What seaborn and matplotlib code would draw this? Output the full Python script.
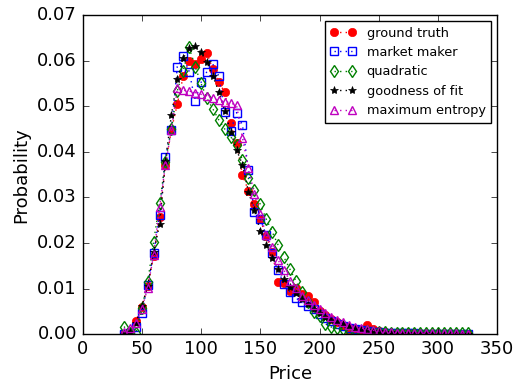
import numpy as np
import pandas as pd
import matplotlib
matplotlib.use("Agg")
import matplotlib.pyplot as plt
import seaborn as sns

# Price grid and estimated probabilities for each method
price = np.arange(35, 330, 5)

ground_truth = [0.0000, 0.0006, 0.0030, 0.0060, 0.0105, 0.0172, 0.0257, 0.0372, 0.0448, 0.0505,
                0.0566, 0.0598, 0.0593, 0.0604, 0.0616, 0.0581, 0.0552, 0.0531, 0.0464, 0.0419,
                0.0349, 0.0315, 0.0285, 0.0252, 0.0215, 0.0180, 0.0115, 0.0112, 0.0095, 0.0101,
                0.0088, 0.0083, 0.0070, 0.0052, 0.0042, 0.0033, 0.0026, 0.0018, 0.0008, 0.0012,
                0.0010, 0.0020, 0.0012, 0.0007, 0.0005, 0.0004, 0.0003, 0.0003, 0.0002, 0.0002,
                0.0001, 0.0001, 0.0001, 0.0001, 0.0000, 0.0000, 0.0000, 0.0000, 0.0000]

market_maker = [0.0000, 0.0003, 0.0016, 0.0046, 0.0109, 0.0178, 0.0262, 0.0389, 0.0448, 0.0587,
                0.0609, 0.0576, 0.0512, 0.0552, 0.0576, 0.0592, 0.0566, 0.0488, 0.0445, 0.0486,
                0.0458, 0.0360, 0.0269, 0.0252, 0.0218, 0.0179, 0.0141, 0.0110, 0.0093, 0.0080,
                0.0070, 0.0063, 0.0055, 0.0045, 0.0036, 0.0029, 0.0023, 0.0018, 0.0014, 0.0011,
                0.0009, 0.0007, 0.0006, 0.0005, 0.0004, 0.0003, 0.0003, 0.0002, 0.0002, 0.0002,
                0.0001, 0.0001, 0.0001, 0.0001, 0.0001, 0.0001, 0.0000, 0.0000, 0.0000]

quadratic = [0.0017, 0.0004, 0.0002, 0.0058, 0.0115, 0.0203, 0.0287, 0.0378, 0.0450, 0.0534,
             0.0578, 0.0629, 0.0587, 0.0550, 0.0517, 0.0494, 0.0470, 0.0450, 0.0433, 0.0415,
             0.0382, 0.0342, 0.0316, 0.0285, 0.0253, 0.0225, 0.0196, 0.0169, 0.0143, 0.0117,
             0.0092, 0.0070, 0.0050, 0.0040, 0.0023, 0.0016, 0.0013, 0.0011, 0.0010, 0.0009,
             0.0008, 0.0007, 0.0006, 0.0005, 0.0005, 0.0004, 0.0004, 0.0004, 0.0003, 0.0003,
             0.0003, 0.0003, 0.0002, 0.0002, 0.0002, 0.0002, 0.0002, 0.0002, 0.0002]

goodness_of_fit = [0.0000, 0.0005, 0.0025, 0.0062, 0.0105, 0.0180, 0.0241, 0.0380, 0.0481, 0.0559,
                   0.0605, 0.0628, 0.0631, 0.0618, 0.0596, 0.0566, 0.0532, 0.0489, 0.0444, 0.0404,
                   0.0372, 0.0313, 0.0272, 0.0227, 0.0196, 0.0168, 0.0144, 0.0122, 0.0104, 0.0090,
                   0.0078, 0.0066, 0.0056, 0.0047, 0.0039, 0.0032, 0.0027, 0.0022, 0.0018, 0.0015,
                   0.0012, 0.0010, 0.0008, 0.0007, 0.0006, 0.0005, 0.0004, 0.0003, 0.0003, 0.0002,
                   0.0002, 0.0002, 0.0001, 0.0001, 0.0001, 0.0001, 0.0001, 0.0001, 0.0000]

max_entropy = [0.0005, 0.0013, 0.0024, 0.0056, 0.0101, 0.0174, 0.0279, 0.0371, 0.0448, 0.0539,
               0.0535, 0.0533, 0.0530, 0.0526, 0.0523, 0.0517, 0.0513, 0.0510, 0.0507, 0.0502,
               0.0430, 0.0365, 0.0308, 0.0263, 0.0218, 0.0191, 0.0163, 0.0140, 0.0118, 0.0101,
               0.0085, 0.0075, 0.0065, 0.0055, 0.0046, 0.0039, 0.0032, 0.0026, 0.0021, 0.0017,
               0.0014, 0.0011, 0.0009, 0.0007, 0.0006, 0.0005, 0.0004, 0.0004, 0.0003, 0.0003,
               0.0003, 0.0002, 0.0002, 0.0002, 0.0002, 0.0002, 0.0002, 0.0001, 0.0001]

series = [
    ("ground truth", ground_truth, "red", "o", "red", 0.5),
    ("market maker", market_maker, "blue", "s", "none", 1.0),
    ("quadratic", quadratic, "green", "d", "none", 1.0),
    ("goodness of fit", goodness_of_fit, "black", "*", "black", 0.5),
    ("maximum entropy", max_entropy, "m", "^", "none", 1.0),
]

plt.style.use("classic")
fig, ax = plt.subplots(figsize=(5.29, 3.83), dpi=100, facecolor="white")
fig.subplots_adjust(left=0.156, right=0.940, bottom=0.127, top=0.961)

for label, vals, color, marker, face, mew in series:
    df = pd.DataFrame({"Price": price, "Probability": vals})
    sns.lineplot(data=df, x="Price", y="Probability", ax=ax, color=color,
                 ls=":", lw=1, marker=marker, markersize=6,
                 markerfacecolor=face, markeredgecolor=color,
                 markeredgewidth=mew, label=label)

ax.set_xlim(0, 350)
ax.set_ylim(0, 0.07)
ax.set_xticks(np.arange(0, 351, 50))
ax.set_yticks(np.arange(0, 0.071, 0.01))
ax.tick_params(labelsize=13)
ax.set_xlabel("Price", fontsize=13)
ax.set_ylabel("Probability", fontsize=13)
ax.legend(loc="upper right", fontsize=9.3, numpoints=2)

fig.savefig("out.png", dpi=100, facecolor="white")
